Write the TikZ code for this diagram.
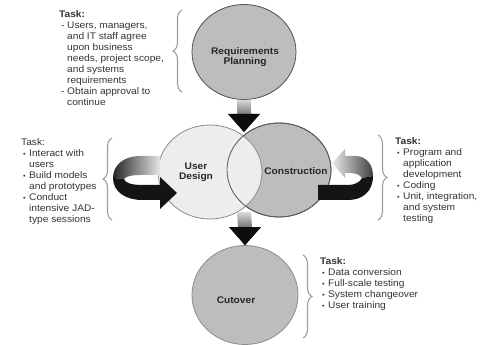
\documentclass[tikz,border=0pt]{standalone}
\usepackage{fontspec}
\setmainfont{Liberation Sans}[FakeStretch=1.06]
\usetikzlibrary{calc,positioning,shapes.geometric,decorations.pathreplacing}
\definecolor{phasegray}{gray}{0.74}
\definecolor{phaselight}{gray}{0.93}
\newcommand{\phasearrow}[2]{\path[top color=gray!30,middle color=black!95,bottom color=black]
  ($(#1)+(-7,0)$) -- ($(#2)+(-7,-18)$) -- ($(#2)+(-16,-18)$) -- (#2)
  -- ($(#2)+(16,-18)$) -- ($(#2)+(7,-18)$) -- ($(#1)+(7,0)$) -- cycle;
  \fill[black!95] ($(#2)+(-16,-18)$) -- (#2) -- ($(#2)+(16,-18)$) -- cycle;}
\newcommand{\bu}[1][{\scriptsize\textbullet}]{\hspace*{2pt}\makebox[6pt][l]{#1}}
\newcommand{\ind}{\hspace*{8pt}}

\begin{document}
\begin{tikzpicture}[x=1pt,y=-1pt,font=\fontsize{9.6}{11.1}\selectfont,
  phase/.style={ellipse,minimum width=104pt,minimum height=94pt,inner sep=0pt},
  phaselabel/.style={font=\fontsize{9.6}{10.5}\selectfont\bfseries,align=center,text=black!85},
  task/.style={align=left,anchor=north west,inner sep=0pt,text=black!80},
  taskbrace/.style={draw=gray!75,line width=1.1pt,decorate,decoration={brace,amplitude=9pt}}]
\useasboundingbox (0,0) rectangle (483,345);
% the four phases
\node[phase,fill=phasegray,draw=black!65,line width=0.8pt] (cons) at (279,170) {};
\node[phase,fill=phaselight,draw=black!45,line width=0.8pt] (ud) at (210,172) {};
\draw[black!65,line width=0.8pt] (cons.center) ellipse [x radius=52pt,y radius=47pt];
\node[phase,fill=phasegray,draw=black!70,line width=0.8pt,minimum height=95pt] (rp) at (244,52) {};
\node[phase,fill=phasegray,draw=black!45,line width=0.8pt,minimum width=106pt,minimum height=99pt] (co) at (245,295) {};
\node[phaselabel] (rpLabel) at (245,57) {Requirements\\Planning};
\node[phaselabel] (udLabel) at (196,172) {User\\Design};
\node[phaselabel] (consLabel) at (296,171) {Construction};
\node[phaselabel] (coLabel) at (236,300) {Cutover};
% block arrows between phases
\coordinate (entry) at (244,132);
\coordinate (exit) at (244,212);
\phasearrow{rp.south}{entry}
\phasearrow{exit}{co.north}
% loop arrow into User Design
\shade[left color=black!85,right color=gray!20]
  (160,156) -- (140,156) .. controls (124,156) and (113,165) .. (113,178)
  -- (124,179) .. controls (126,176) and (132,175) .. (142,175) -- (160,175) -- cycle;
\fill[black!92] (113,178) .. controls (113,192) and (126,200) .. (142,200) -- (160,200)
  -- (160,209) -- (177,193) -- (160,177) -- (160,185) -- (142,185)
  .. controls (132,185) and (125,183) .. (124,179) -- cycle;
% loop arrow into Construction
\shade[left color=gray!15,right color=black!75]
  (332,163) -- (345,149) -- (345,156) -- (355,156) .. controls (366,156) and (373,164) .. (373,176)
  -- (362,178) .. controls (360,175) and (356,173) .. (350,173) -- (345,173) -- (345,178) -- cycle;
\fill[black!92] (373,176) .. controls (373,192) and (362,200) .. (348,200) -- (318,200)
  -- (318,185) -- (348,185) .. controls (355,185) and (360,182) .. (362,178) -- cycle;
% tasks
\node[task] (rpTask) at (59,10) {\textbf{Task:}\\
  \bu[-]Users, managers,\\ \ind and IT staff agree\\ \ind upon business\\
  \ind needs, project scope,\\ \ind and systems\\ \ind requirements\\
  \bu[-]Obtain approval to\\ \ind continue};
\node[task] (udTask) at (21,138) {Task:\\
  \bu Interact with\\ \ind users\\ \bu Build models\\ \ind and prototypes\\
  \bu Conduct\\ \ind intensive JAD-\\ \ind type sessions};
\node[task] (consTask) at (395,137) {\textbf{Task:}\\
  \bu Program and\\ \ind application\\ \ind development\\ \bu Coding\\
  \bu Unit, integration,\\ \ind and system\\ \ind testing};
\node[task] (coTask) at (320,257) {\textbf{Task:}\\
  \bu Data conversion\\ \bu Full-scale testing\\ \bu System changeover\\ \bu User training};
\draw[taskbrace] (182,92) -- (182,10);
\draw[taskbrace] (112,220) -- (112,138);
\draw[taskbrace] (378,135) -- (378,220);
\draw[taskbrace] (303,255) -- (303,338);
\end{tikzpicture}
\end{document}
